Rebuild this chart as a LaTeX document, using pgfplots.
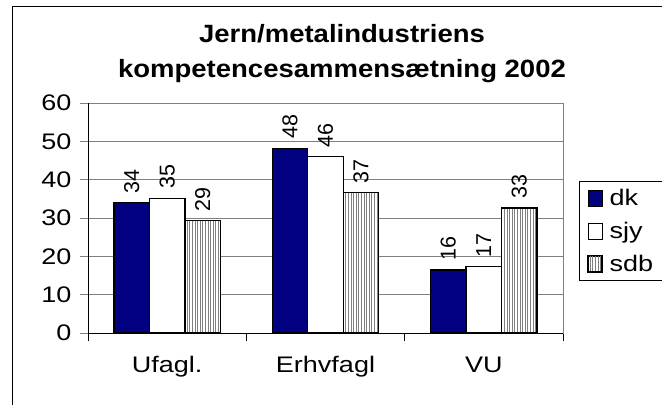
\documentclass[border=0pt]{standalone}
\usepackage{fontspec}
\setmainfont[FakeStretch=1.2]{Liberation Sans}
\newfontfamily\lblfam{Liberation Sans}
\newfontfamily\titlefam[FakeStretch=1.1]{Liberation Sans}
\usepackage{pgfplots}
\pgfplotsset{compat=1.18}
\usetikzlibrary{patterns.meta}
\definecolor{navy}{HTML}{000080}
\definecolor{gridgray}{HTML}{808080}
\newcommand\tickfont{\fontsize{22.5bp}{27bp}\selectfont}
\newcommand\lblfont{\lblfam\fontsize{21.5bp}{25bp}\selectfont}
\newcommand\ttlfont{\titlefam\bfseries\fontsize{25bp}{30bp}\selectfont}
\begin{document}
\begin{tikzpicture}
\draw[black, line width=1bp] (12bp,-60bp) -- (12bp,398bp) -- (720bp,398bp);
\node[anchor=base, font=\ttlfont, inner sep=0pt] at (342bp,362bp) {Jern/metalindustriens};
\node[anchor=base, font=\ttlfont, inner sep=0pt] at (342bp,327bp) {kompetencesammensætning 2002};
\begin{axis}[
  at={(88bp,72bp)}, anchor=south west,
  scale only axis, width=475bp, height=230bp,
  xmin=-0.5, xmax=2.5, ymin=0, ymax=60,
  ybar=0bp, bar width=35.5bp,
  xtick={-0.5,0.5,1.5,2.5}, x tick label as interval,
  xticklabels={Ufagl.,Erhvfagl,VU},
  ytick={0,10,...,60},
  xtick pos=bottom, ytick pos=left,
  ymajorgrids, grid style={gridgray, line width=1bp},
  tick align=outside, major tick length=8bp,
  xtick style={black, line width=1bp},
  ytick style={gridgray, line width=1bp},
  axis line style={gridgray, line width=1bp},
  tick label style={font=\tickfont},
  xticklabel style={yshift=-12bp},
  yticklabel style={xshift=-5bp},
  /pgf/number format/assume math mode=true,
  nodes near coords={\pgfmathprintnumber[fixed,precision=0]{\pgfplotspointmeta}},
  every node near coord/.append style={font=\lblfont, rotate=90, anchor=west, inner xsep=9bp, inner ysep=0bp},
  legend style={at={(1.0337,0.6609)}, anchor=north west, draw=black, line width=1bp,
    font=\tickfont, inner xsep=8bp, inner ysep=6bp, row sep=11bp,
    /tikz/every odd column/.append style={column sep=5bp}},
  legend cell align=left,
  legend image code/.code={\draw[#1, line width=1bp] (0bp,-8bp) rectangle (14bp,8bp);},
  after end axis/.code={\draw[black,line width=1bp] (rel axis cs:0,1) -- (rel axis cs:0,0) -- (rel axis cs:1,0);},
]
\addplot[fill=navy, draw=black, line width=1.3bp] coordinates {(0,34.0) (1,48.2) (2,16.4)};
\addplot[fill=white, draw=black, line width=1.3bp] coordinates {(0,35.1) (1,46.0) (2,17.3)};
\addplot[draw=black, line width=1.3bp, preaction={fill=white}, pattern={Lines[angle=90,distance=2.6bp,line width=1bp]}, pattern color=black!50] coordinates {(0,29.3) (1,36.6) (2,32.6)};
\legend{dk,sjy,sdb}
\end{axis}
\pgfresetboundingbox
\useasboundingbox (0bp,0bp) rectangle (662bp,405bp);
\end{tikzpicture}
\end{document}
